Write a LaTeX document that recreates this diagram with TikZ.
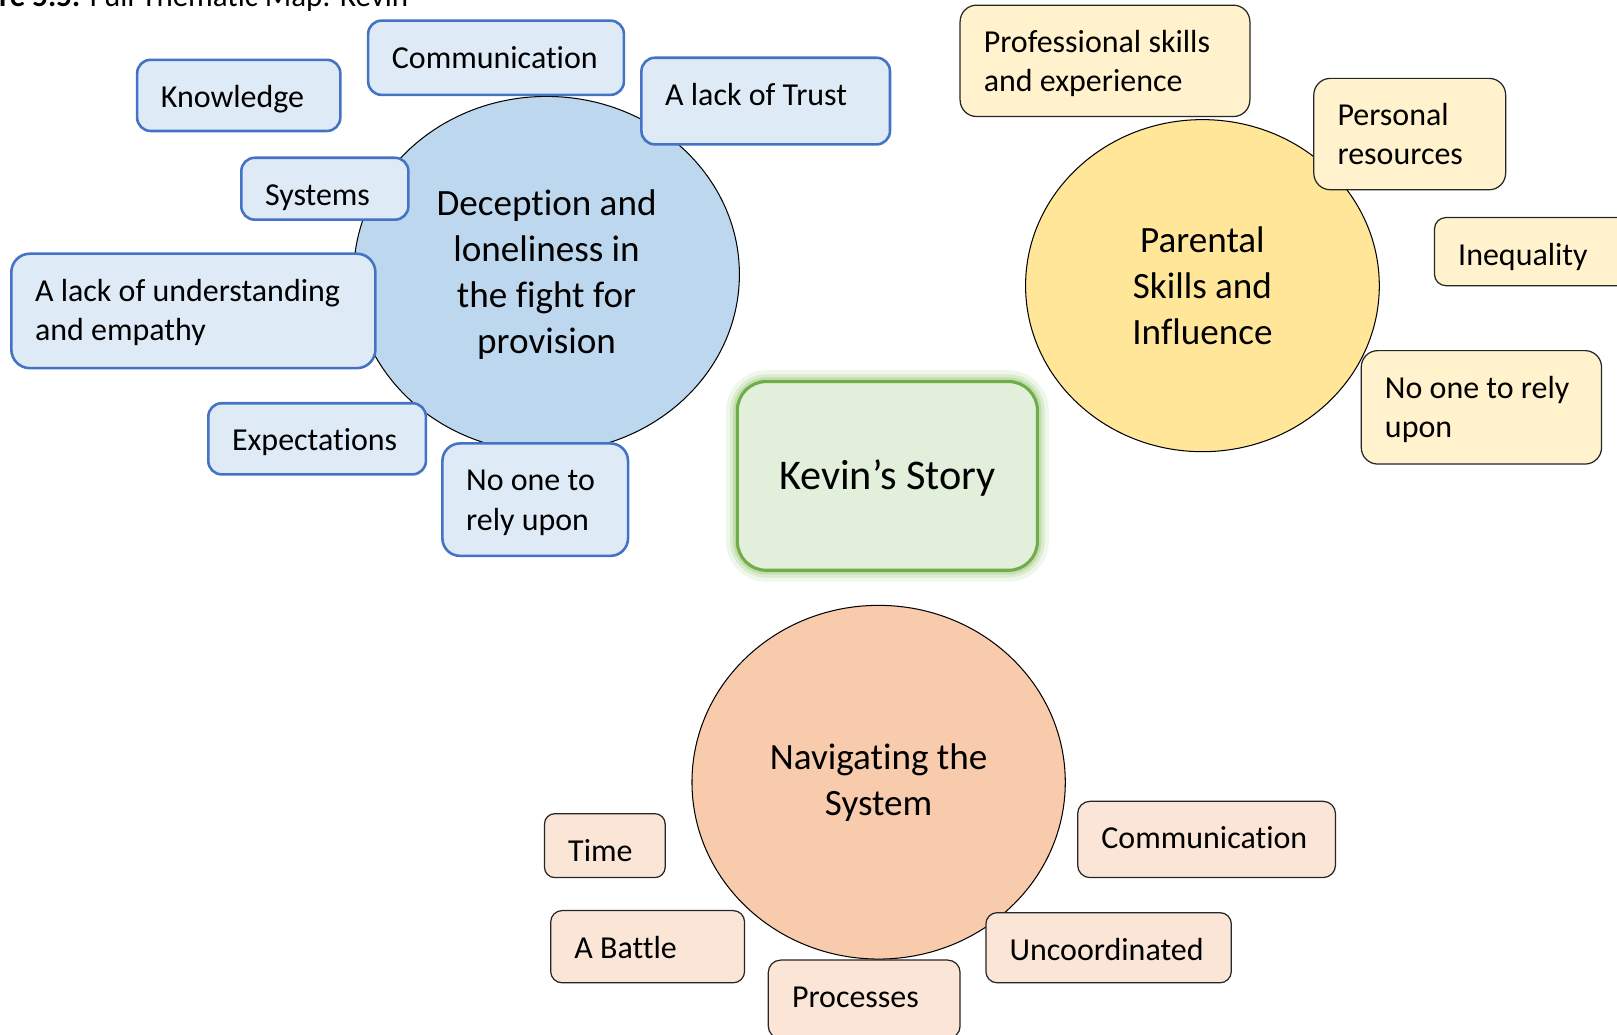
\documentclass[tikz,border=0pt]{standalone}
\usepackage{fontspec}
\setmainfont{Carlito}[Ligatures=NoCommon]
\usepackage{tikz}
\usetikzlibrary{shapes}
\usetikzlibrary{shapes.geometric}

\definecolor{blueline}{HTML}{4472C4}
\definecolor{bluefill}{HTML}{DEEBF7}
\definecolor{bluecirc}{HTML}{BDD7EE}
\definecolor{yellcirc}{HTML}{FFE699}
\definecolor{yellfill}{HTML}{FFF2CC}
\definecolor{orcirc}{HTML}{F8CBAD}
\definecolor{orfill}{HTML}{FBE5D6}
\definecolor{kfill}{HTML}{E2EFDA}
\definecolor{kline}{HTML}{70AD47}
\definecolor{glowgreen}{HTML}{A9D18E}

\begin{document}
\begin{tikzpicture}[x=1pt, y=-1pt,
  theme/.style={ellipse, draw=black, line width=1pt, align=center, font=\fontsize{36}{44.5}\selectfont},
  leaf/.style={rectangle, rounded corners=13pt, align=flush left, inner xsep=23pt, inner ysep=0pt, text height=46pt, font=\fontsize{31}{38}\selectfont},
  boxh/.style={text depth=#1pt-46pt},
  blueleaf/.style={leaf, draw=blueline, fill=bluefill, line width=2.5pt},
  yellowleaf/.style={leaf, draw=black!85, fill=yellfill, line width=1.2pt, rounded corners=16pt},
  orangeleaf/.style={leaf, draw=black!85, fill=orfill, line width=1.2pt},
  story/.style={rectangle, rounded corners=28pt, draw=kline, line width=3pt, fill=kfill, text depth=2pt, font=\fontsize{41}{49}\selectfont,
    preaction={draw=glowgreen, line width=22pt, opacity=.18},
    preaction={draw=glowgreen, line width=14pt, opacity=.3},
    preaction={draw=glowgreen, line width=8pt, opacity=.5}}]

\useasboundingbox (0,0) rectangle (1568,1003);

% Caption, cut at the top
\node (cap) [anchor=base west, inner sep=0pt, font=\fontsize{30}{36}\selectfont] at (-1,6.5) {\textbf{re 5.5:} Full Thematic Map: Kevin};

% Define theme circles
\node (dec) [theme, fill=bluecirc, minimum width=374pt, minimum height=345pt] at (530,266) {Deception and\\ loneliness in\\ the fight for\\ provision};
\node (par) [theme, fill=yellcirc, minimum width=343pt, minimum height=322pt] at (1166,277) {Parental\\ Skills and\\ Influence};
\node (nav) [theme, fill=orcirc, minimum width=362pt, minimum height=343pt] at (852,758.5) {Navigating the\\ System};

% Subthemes of deception and loneliness
\node (knowledge) [blueleaf, text width=151pt, boxh=69] at (231.5,92.5) {Knowledge};
\node (comm1) [blueleaf, text width=202pt, boxh=72] at (481,56) {Communication};
\node (trust) [blueleaf, text width=195pt, boxh=84] at (742.5,98) {A lack of Trust};
\node (systems) [blueleaf, text width=116pt, boxh=60] at (315,183) {Systems};
\node (empathy) [blueleaf, text width=307pt, boxh=111, rounded corners=18pt] at (187.5,301.5) {A lack of understanding\\ and empathy};
\node (expect) [blueleaf, text width=165pt, boxh=69] at (307.5,425.5) {Expectations};
\node (rely1) [blueleaf, text width=134pt, boxh=109, rounded corners=17pt] at (519,484.5) {No one to\\ rely upon};

% Subthemes of parental skills
\node (profskills) [yellowleaf, text width=235pt, boxh=108] at (1071.5,59) {Professional skills\\ and experience};
\node (personal) [yellowleaf, text width=140pt, boxh=108] at (1367,130) {Personal\\ resources};
\node (inequal) [yellowleaf, text width=163pt, boxh=66, rounded corners=11pt] at (1495.5,244) {Inequality};
\node (rely2) [yellowleaf, text width=187pt, boxh=110] at (1436.5,395) {No one to rely\\ upon};

% Subthemes of navigating the system
\node (time) [orangeleaf, text width=71pt, boxh=62, rounded corners=10pt] at (586.5,820) {Time};
\node (battle) [orangeleaf, text width=142pt, boxh=70, rounded corners=11pt] at (628,918) {A Battle};
\node (process) [orangeleaf, text width=140pt, boxh=76, rounded corners=12pt] at (838,969) {Processes};
\node (comm2) [orangeleaf, text width=204pt, boxh=74, rounded corners=12pt] at (1170,814) {Communication};
\node (uncoord) [orangeleaf, text width=192pt, boxh=68, rounded corners=11pt] at (1075,919) {Uncoordinated};

% Central story
\node (kevin) [story, minimum width=291pt, minimum height=183pt] at (860.5,461.5) {Kevin’s Story};

\end{tikzpicture}
\end{document}
